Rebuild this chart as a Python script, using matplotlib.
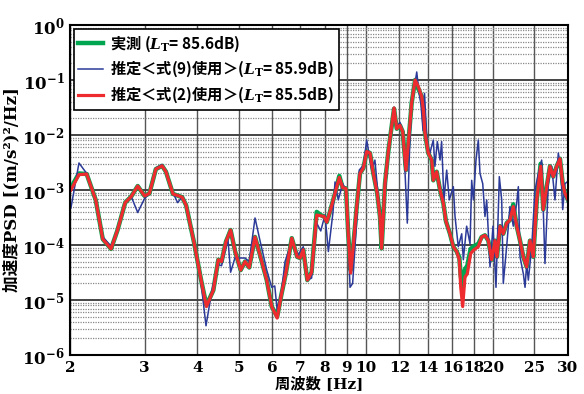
import numpy as np
import matplotlib
matplotlib.use("Agg")
import matplotlib.pyplot as plt
from matplotlib.ticker import FixedLocator, FuncFormatter, LogLocator, NullFormatter, NullLocator

# 周波数 [Hz] と加速度PSD（実測・式(2)）
freq_meas = [2.01, 2.10, 2.19, 2.30, 2.39, 2.50, 2.59, 2.70, 2.79, 2.89,
             3.00, 3.08, 3.19, 3.30, 3.37, 3.50, 3.68, 3.76, 3.93, 4.08,
             4.20, 4.36, 4.48, 4.56, 4.67, 4.79, 4.91, 5.06, 5.18, 5.30,
             5.47, 5.62, 5.83, 5.99, 6.17, 6.32, 6.47, 6.68, 6.88, 6.99,
             7.11, 7.27, 7.44, 7.65, 7.82, 7.96, 8.08, 8.22, 8.45, 8.65,
             8.81, 8.97, 9.08, 9.20, 9.33, 9.51, 9.68, 9.86, 10.04, 10.22,
             10.41, 10.63, 10.79, 10.89, 11.09, 11.29, 11.44, 11.65, 11.82, 12.03,
             12.21, 12.43, 12.59, 12.82, 13.06, 13.29, 13.54, 13.67, 13.78, 14.03,
             14.30, 14.42, 14.69, 14.96, 15.23, 15.45, 15.79, 16.08, 16.38, 16.61,
             16.74, 16.92, 17.13, 17.35, 17.67, 17.99, 18.42, 18.76, 19.10, 19.45,
             19.81, 20.17, 20.39, 20.73, 21.10, 21.49, 21.88, 22.28, 22.70, 23.11,
             23.53, 23.96, 24.40, 24.84, 25.31, 25.86, 26.23, 26.72, 27.20, 27.69,
             28.21, 28.72, 29.15, 29.51, 30.00]

psd_meas = [1.1e-3, 2.0e-3, 1.95e-3, 6.6e-4, 1.28e-4, 8.5e-5, 1.87e-4, 5.9e-4, 7.6e-4, 1.18e-3,
            7.8e-4, 8.7e-4, 2.4e-3, 2.75e-3, 2.15e-3, 8.5e-4, 7.4e-4, 5.3e-4, 1.07e-4, 2.3e-5,
            8.0e-6, 1.5e-5, 5.4e-5, 5.0e-5, 1.15e-4, 1.87e-4, 7.6e-5, 3.5e-5, 5.0e-5, 3.9e-5,
            1.4e-4, 6.6e-5, 2.3e-5, 7.6e-6, 5.0e-6, 1.3e-5, 3.1e-5, 1.33e-4, 6.1e-5, 5.8e-5,
            8.2e-5, 2.3e-5, 3.2e-5, 4.0e-4, 3.5e-4, 3.3e-4, 2.6e-4, 4.0e-4, 8.7e-4, 1.8e-3,
            1.1e-3, 1.07e-3, 1.6e-4, 3.5e-5, 9.3e-5, 5.0e-4, 2.0e-3, 2.5e-3, 5.0e-3, 4.7e-3,
            2.0e-3, 8.7e-4, 3.3e-4, 8.7e-5, 1.3e-3, 5.0e-3, 1.07e-2, 3.0e-2, 1.3e-2, 1.5e-2,
            1.15e-2, 2.3e-3, 7.0e-3, 3.8e-2, 1.0e-1, 7.0e-2, 5.0e-2, 2.8e-2, 1.1e-2, 4.7e-3,
            3.5e-3, 1.5e-3, 2.15e-3, 1.0e-3, 5.8e-4, 2.7e-4, 1.6e-4, 9.3e-5, 7.6e-5, 6.0e-5,
            2.8e-5, 1.6e-5, 3.6e-5, 4.2e-5, 8.5e-5, 9.5e-5, 1.05e-4, 1.4e-4, 1.5e-4, 1.2e-4,
            5.4e-5, 1.2e-4, 6.1e-5, 2.2e-4, 1.6e-4, 2.5e-4, 2.85e-4, 5.5e-4, 2.2e-4, 1.2e-4,
            6.1e-5, 4.0e-5, 1.2e-4, 6.1e-5, 6.6e-4, 3.0e-3, 4.4e-4, 1.15e-3, 2.7e-3, 1.75e-3,
            2.7e-3, 3.7e-3, 1.3e-3, 8.7e-4, 6.6e-4]

psd_eq2 = [1.0e-3, 1.9e-3, 1.95e-3, 6.6e-4, 1.28e-4, 8.5e-5, 1.87e-4, 5.9e-4, 7.6e-4, 1.18e-3,
           7.8e-4, 8.7e-4, 2.4e-3, 2.75e-3, 2.15e-3, 8.5e-4, 7.4e-4, 5.3e-4, 1.07e-4, 2.3e-5,
           7.6e-6, 1.5e-5, 5.4e-5, 5.0e-5, 1.15e-4, 1.87e-4, 7.6e-5, 3.5e-5, 5.0e-5, 3.9e-5,
           1.4e-4, 6.6e-5, 2.3e-5, 7.6e-6, 4.7e-6, 1.3e-5, 3.1e-5, 1.33e-4, 6.1e-5, 5.8e-5,
           8.2e-5, 2.3e-5, 3.2e-5, 3.5e-4, 3.4e-4, 3.3e-4, 2.6e-4, 4.0e-4, 8.7e-4, 1.7e-3,
           1.1e-3, 1.07e-3, 1.6e-4, 3.1e-5, 9.3e-5, 5.0e-4, 2.0e-3, 2.5e-3, 5.0e-3, 4.7e-3,
           2.0e-3, 8.7e-4, 3.3e-4, 8.7e-5, 1.3e-3, 5.0e-3, 1.07e-2, 3.1e-2, 1.3e-2, 1.5e-2,
           1.15e-2, 2.3e-3, 7.0e-3, 3.8e-2, 1.0e-1, 7.6e-2, 5.0e-2, 2.8e-2, 1.1e-2, 4.7e-3,
           3.5e-3, 1.5e-3, 2.15e-3, 1.0e-3, 5.8e-4, 2.7e-4, 1.6e-4, 9.3e-5, 7.6e-5, 5.4e-5,
           1.7e-5, 7.6e-6, 2.6e-5, 3.0e-5, 7.0e-5, 8.2e-5, 9.3e-5, 1.4e-4, 1.5e-4, 1.2e-4,
           5.4e-5, 1.2e-4, 6.1e-5, 2.2e-4, 1.6e-4, 2.5e-4, 2.85e-4, 5.0e-4, 2.2e-4, 1.2e-4,
           6.1e-5, 4.0e-5, 1.2e-4, 6.1e-5, 6.6e-4, 2.7e-3, 4.4e-4, 1.15e-3, 2.7e-3, 1.75e-3,
           2.7e-3, 3.7e-3, 1.3e-3, 8.7e-4, 6.6e-4]

# 推定＜式(9)使用＞
freq_eq9 = [2.01, 2.10, 2.19, 2.30, 2.39, 2.50, 2.59, 2.70, 2.79, 2.89,
            3.00, 3.08, 3.19, 3.30, 3.37, 3.50, 3.59, 3.69, 3.76, 3.93,
            4.08, 4.19, 4.32, 4.38, 4.48, 4.56, 4.67, 4.72, 4.79, 4.91,
            4.99, 5.18, 5.30, 5.47, 5.62, 5.83, 5.99, 6.09, 6.17, 6.32,
            6.44, 6.68, 6.91, 7.11, 7.27, 7.44, 7.65, 7.82, 8.00, 8.08,
            8.15, 8.36, 8.45, 8.60, 8.81, 8.97, 9.08, 9.17, 9.30, 9.51,
            9.64, 9.86, 10.04, 10.32, 10.50, 10.79, 10.91, 11.09, 11.29, 11.44,
            11.65, 11.82, 12.03, 12.21, 12.37, 12.52, 12.67, 12.82, 13.18, 13.34,
            13.49, 13.64, 13.75, 13.91, 14.03, 14.16, 14.42, 14.55, 14.74, 14.96,
            15.09, 15.28, 15.51, 15.73, 16.08, 16.23, 16.52, 16.83, 16.98, 17.29,
            17.61, 17.77, 17.93, 18.19, 18.42, 18.59, 18.87, 19.10, 19.28, 19.63,
            19.95, 20.28, 20.65, 20.92, 21.10, 21.49, 21.88, 22.28, 22.70, 22.90,
            23.11, 23.53, 23.75, 23.96, 24.18, 24.63, 25.07, 25.53, 26.00, 26.47,
            26.95, 27.45, 27.95, 28.46, 28.83, 29.15, 29.51, 29.85]

psd_eq9 = [4.7e-4, 3.1e-3, 2.0e-3, 6.6e-4, 1.4e-4, 9.5e-5, 1.9e-4, 6.0e-4, 7.6e-4, 3.9e-4,
           7.0e-4, 8.7e-4, 2.5e-3, 2.9e-3, 2.2e-3, 9.0e-4, 5.9e-4, 7.6e-4, 5.3e-4, 1.07e-4,
           2.0e-5, 3.4e-6, 1.4e-5, 2.3e-5, 4.4e-5, 4.2e-5, 9.3e-5, 1.3e-4, 3.2e-5, 6.0e-5,
           5.8e-5, 5.8e-5, 5.0e-5, 3.1e-4, 1.2e-4, 3.5e-5, 1.7e-5, 1.8e-5, 6.6e-6, 1.5e-5,
           5.0e-5, 1.15e-4, 6.6e-5, 9.3e-5, 2.3e-5, 2.5e-5, 2.5e-4, 1.8e-4, 3.5e-4, 1.6e-4,
           7.6e-5, 4.0e-4, 1.4e-3, 6.6e-4, 1.3e-3, 1.0e-3, 1.2e-4, 1.7e-5, 2.0e-5, 2.85e-4,
           2.3e-3, 2.8e-3, 8.1e-3, 2.3e-3, 3.5e-3, 3.3e-4, 1.2e-4, 8.7e-4, 4.5e-3, 1.0e-2,
           3.2e-2, 1.4e-2, 1.7e-2, 1.2e-2, 2.0e-3, 2.5e-4, 5.0e-3, 3.5e-2, 1.4e-1, 6.0e-2,
           3.5e-2, 1.2e-2, 5.7e-2, 1.0e-2, 6.0e-3, 4.7e-3, 8.1e-3, 2.7e-3, 7.6e-3, 3.5e-3,
           7.6e-3, 6.6e-4, 2.3e-3, 6.6e-4, 1.15e-3, 3.3e-4, 9.3e-5, 1.6e-4, 5.4e-5, 2.2e-4,
           1.05e-4, 1.5e-3, 6.6e-4, 3.5e-3, 8.1e-3, 2.0e-3, 1.3e-3, 3.3e-4, 6.6e-4, 4.0e-5,
           2.2e-4, 1.7e-5, 1.75e-3, 6.6e-4, 2.0e-5, 9.3e-5, 5.0e-4, 2.2e-4, 5.8e-4, 1.15e-3,
           6.1e-5, 3.0e-5, 1.7e-5, 4.6e-5, 2.3e-5, 9.3e-5, 1.0e-3, 2.0e-3, 3.5e-3, 4.6e-5,
           1.3e-3, 2.7e-3, 6.6e-4, 4.7e-3, 2.5e-3, 4.4e-4, 1.3e-3, 1.4e-3]

x_ticks = [2, 3, 4, 5, 6, 7, 8, 9, 10, 12, 14, 16, 18, 20, 25, 30]
y_ticks = [1e-6, 1e-5, 1e-4, 1e-3, 1e-2, 1e-1, 1e0]

labels = [r'実測 ($L_\mathrm{T}$= 85.6dB)',
          r'推定＜式(9)使用＞($L_\mathrm{T}$= 85.9dB)',
          r'推定＜式(2)使用＞($L_\mathrm{T}$= 85.5dB)']

plt.rcParams['mathtext.fontset'] = 'custom'
plt.rcParams['mathtext.rm'] = 'DejaVu Serif:bold'
plt.rcParams['mathtext.bf'] = 'DejaVu Serif:bold'
plt.rcParams['mathtext.it'] = 'DejaVu Serif:italic:bold'

fig = plt.figure(figsize=(5.84, 3.94), dpi=100)
ax = fig.add_axes([70 / 584, 39 / 394, 498 / 584, 330 / 394])

ax.plot(freq_meas, psd_meas, color='#00a550', lw=3.2, label=labels[0], zorder=3)
ax.plot(freq_eq9, psd_eq9, color='#2b3a98', lw=1.1, label=labels[1], zorder=4)
ax.plot(freq_meas, psd_eq2, color='#ee2b2e', lw=2.3, label=labels[2], zorder=5)

ax.set_xscale('log')
ax.set_yscale('log')
ax.set_xlim(2, 30)
ax.set_ylim(1e-6, 1)

ax.xaxis.set_major_locator(FixedLocator(x_ticks))
ax.xaxis.set_minor_locator(NullLocator())
ax.xaxis.set_major_formatter(FuncFormatter(lambda v, p: '%d' % round(v)))
ax.yaxis.set_major_locator(FixedLocator(y_ticks))
ax.yaxis.set_minor_locator(LogLocator(base=10, subs=np.arange(2, 10)))
ax.yaxis.set_minor_formatter(NullFormatter())
ax.yaxis.set_major_formatter(FuncFormatter(lambda v, p: r'$10^{%d}$' % round(np.log10(v))))

for t in ax.get_xticklabels():
    t.set_fontfamily('DejaVu Serif')
    t.set_fontweight('bold')
    t.set_fontsize(11)
for t in ax.get_yticklabels():
    t.set_fontfamily('DejaVu Serif')
    t.set_fontweight('bold')
    t.set_fontsize(12)
ax.tick_params(axis='x', which='both', direction='in', length=0, pad=4)
ax.tick_params(axis='y', which='both', direction='in', length=0, pad=4)

ax.grid(which='major', axis='x', color='#555555', lw=1.0)
ax.grid(which='major', axis='y', color='#444444', lw=1.4)
ax.grid(which='minor', axis='y', color='#888888', lw=0.9, linestyle=(0, (1, 1)))
ax.set_axisbelow(True)
for s in ax.spines.values():
    s.set_linewidth(1.5)
    s.set_zorder(6)

label_family = ['DejaVu Serif', 'Noto Sans CJK JP']
ax.set_xlabel('周波数 [Hz]', family=label_family, fontsize=11, fontweight='bold', labelpad=1)
ax.set_ylabel('加速度PSD [(m/s²)²/Hz]', family=label_family, fontsize=12,
              fontweight='bold', labelpad=1)

leg = ax.legend(loc='upper left', bbox_to_anchor=(0.0, 1.0), fancybox=False, framealpha=1,
                edgecolor='black', handlelength=1.6, handletextpad=0.5, borderpad=0.3,
                labelspacing=0.35, borderaxespad=0.25,
                prop={'family': ['Noto Sans CJK JP', 'DejaVu Sans'], 'weight': 'bold', 'size': 11})
leg.get_frame().set_linewidth(1.2)
leg.set_zorder(7)

fig.savefig('out.png', dpi=100)
